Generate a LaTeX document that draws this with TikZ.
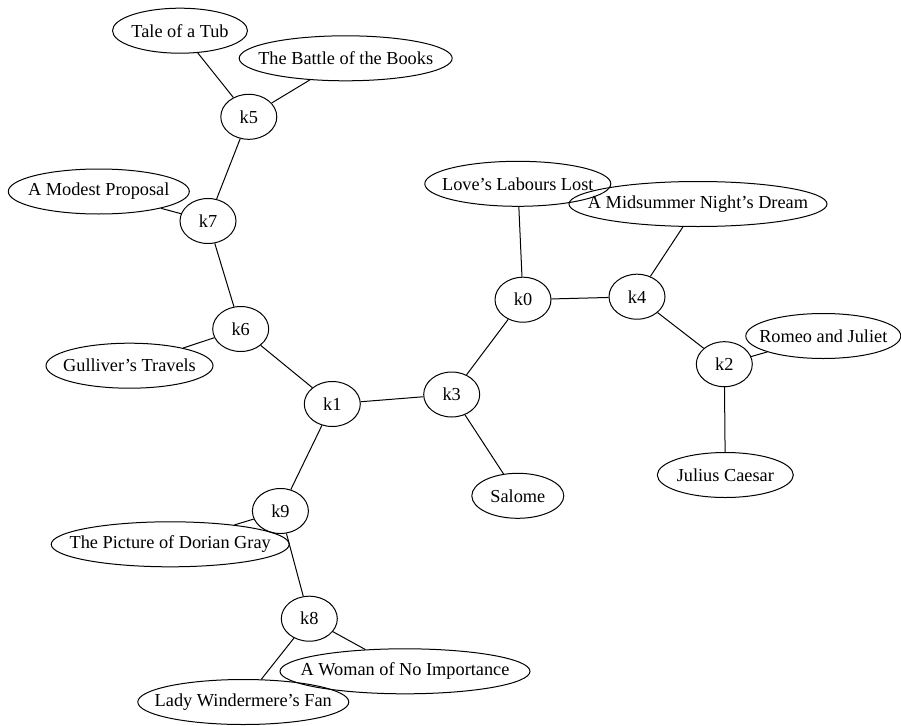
\documentclass[tikz,border=0pt]{standalone}
\usepackage{fontspec}
\setmainfont{Liberation Serif}
\usetikzlibrary{shapes.geometric}
\tikzset{
  gnode/.style={ellipse, draw=black, line width=1pt, inner sep=0pt,
    minimum height=45pt, font=\fontsize{18.3}{22}\selectfont},
  knode/.style={gnode, minimum width=56pt},
  edge/.style={draw=black, line width=1pt}
}
\newcommand{\gt}[1]{\makebox[0pt]{#1}}
\begin{document}
\begin{tikzpicture}[x=1pt,y=-1pt]
\useasboundingbox (0,0) rectangle (901,725);
% title nodes
\node[gnode, minimum width=135pt] (tale) at (180,30.7) {\gt{Tale of a Tub}};
\node[gnode, minimum width=213pt] (battle) at (345.7,58.3) {\gt{The Battle of the Books}};
\node[gnode, minimum width=181pt] (modest) at (98.8,191.5) {\gt{A Modest Proposal}};
\node[gnode, minimum width=186pt] (lll) at (517.8,183.8) {\gt{Love’s Labours Lost}};
\node[gnode, minimum width=258pt] (mid) at (698,204) {\gt{A Midsummer Night’s Dream}};
\node[gnode, minimum width=167pt] (gull) at (129.5,365.7) {\gt{Gulliver’s Travels}};
\node[gnode, minimum width=155pt] (romeo) at (823.3,336) {\gt{Romeo and Juliet}};
\node[gnode, minimum width=136pt] (julius) at (725.3,475) {\gt{Julius Caesar}};
\node[gnode, minimum width=92pt] (salome) at (517.8,495.8) {\gt{Salome}};
\node[gnode, minimum width=238pt] (dorian) at (170.2,544.3) {\gt{The Picture of Dorian Gray}};
\node[gnode, minimum width=250pt] (woman) at (405,671.3) {\gt{A Woman of No Importance}};
\node[gnode, minimum width=211pt] (lady) at (243.3,702) {\gt{Lady Windermere’s Fan}};
% k nodes
\node[knode] (k5) at (248.8,116.8) {\gt{k5}};
\node[knode] (k7) at (208,221) {\gt{k7}};
\node[knode] (k0) at (523,299.7) {\gt{k0}};
\node[knode] (k4) at (637,296.7) {\gt{k4}};
\node[knode] (k6) at (240.7,329) {\gt{k6}};
\node[knode] (k2) at (724.3,364.2) {\gt{k2}};
\node[knode] (k1) at (332.3,404) {\gt{k1}};
\node[knode] (k3) at (451.7,394.5) {\gt{k3}};
\node[knode] (k9) at (280.4,511) {\gt{k9}};
\node[knode] (k8) at (309.3,618.7) {\gt{k8}};
% edges
\draw[edge] (tale) -- (k5);
\draw[edge] (battle) -- (k5);
\draw[edge] (k5) -- (k7);
\draw[edge] (modest) -- (k7);
\draw[edge] (k7) -- (k6);
\draw[edge] (k6) -- (gull);
\draw[edge] (k6) -- (k1);
\draw[edge] (k1) -- (k3);
\draw[edge] (k1) -- (k9);
\draw[edge] (k9) -- (dorian);
\draw[edge] (k9) -- (k8);
\draw[edge] (k8) -- (woman);
\draw[edge] (k8) -- (lady);
\draw[edge] (k3) -- (k0);
\draw[edge] (k3) -- (salome);
\draw[edge] (k0) -- (lll);
\draw[edge] (k0) -- (k4);
\draw[edge] (k4) -- (mid);
\draw[edge] (k4) -- (k2);
\draw[edge] (k2) -- (romeo);
\draw[edge] (k2) -- (julius);
\end{tikzpicture}
\end{document}
